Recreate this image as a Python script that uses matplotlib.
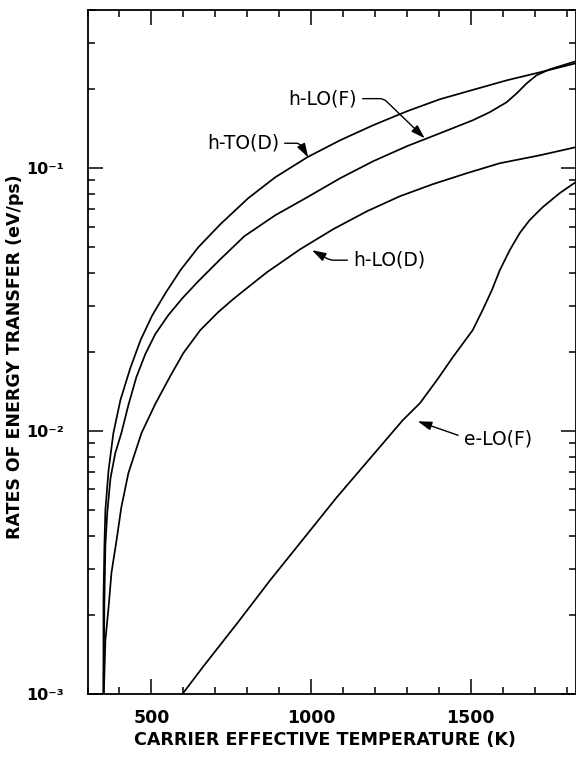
import numpy as np
import matplotlib
matplotlib.use("Agg")
import matplotlib.pyplot as plt
from matplotlib.ticker import FixedLocator, MultipleLocator, LogLocator, NullFormatter

# ---------------- data ----------------
T_hTO_D = [350, 350, 353, 356, 366, 381, 403, 434, 466, 503, 544, 591, 647, 716, 803, 888, 988,
           1091, 1194, 1300, 1403, 1513, 1613, 1716, 1828]
R_hTO_D = [0.001, 0.00228, 0.00369, 0.00501, 0.00711, 0.00983, 0.01312, 0.01736, 0.02218, 0.02761,
           0.03347, 0.04095, 0.05007, 0.06124, 0.0769, 0.09243, 0.1101, 0.1278, 0.1457, 0.1647,
           0.1830, 0.1997, 0.2161, 0.2317, 0.2506]

T_hLO_F = [350, 353, 356, 362, 372, 387, 406, 428, 453, 481, 512, 553, 597, 647, 716, 791, 888, 988,
           1091, 1194, 1300, 1403, 1506, 1559, 1612, 1644, 1675, 1706, 1747, 1828]
R_hLO_F = [0.001, 0.00228, 0.00369, 0.00492, 0.00663, 0.00825, 0.00983, 0.01256, 0.01604, 0.01963,
           0.02337, 0.02761, 0.03203, 0.03718, 0.04508, 0.05513, 0.06627, 0.07757, 0.09162, 0.1063,
           0.1213, 0.1358, 0.1522, 0.1633, 0.1782, 0.1928, 0.2104, 0.2258, 0.2379, 0.2550]

T_hLO_D = [351, 353, 356, 366, 375, 391, 406, 428, 469, 512, 559, 600, 653, 709, 756, 791, 862, 966,
           1069, 1175, 1278, 1381, 1487, 1591, 1716, 1828]
R_hLO_D = [0.001, 0.0012, 0.0016, 0.00214, 0.00289, 0.00385, 0.00514, 0.00692, 0.00983, 0.01267,
           0.01618, 0.0198, 0.02421, 0.02834, 0.03176, 0.03436, 0.04023, 0.0492, 0.05862, 0.06862,
           0.07825, 0.08696, 0.09572, 0.1045, 0.1120, 0.1202]

T_eLO_F = [600, 662, 769, 872, 1081, 1287, 1341, 1394, 1444, 1506, 1537, 1566, 1591, 1622, 1653,
           1684, 1725, 1778, 1828]
R_eLO_F = [0.00101, 0.00127, 0.00186, 0.00271, 0.00561, 0.0110, 0.01278, 0.01563, 0.01912, 0.02421,
           0.02884, 0.03436, 0.04095, 0.04877, 0.0566, 0.06341, 0.07107, 0.08033, 0.08846]

x_major = [500, 1000, 1500]
x_major_labels = ["500", "1000", "1500"]
y_major = [1e-3, 1e-2, 1e-1]
y_major_labels = ["10\u207b\u00b3", "10\u207b\u00b2", "10\u207b\u00b9"]

xlabel = "CARRIER EFFECTIVE TEMPERATURE (K)"
ylabel = "RATES OF ENERGY TRANSFER (eV/ps)"

# ---------------- figure ----------------
W, H = 576, 757
fig = plt.figure(figsize=(W / 100, H / 100), dpi=100)
L, R, B, TOP = 87.5, 575.5, 694, 10
ax = fig.add_axes([L / W, 1 - B / H, (R - L) / W, (B - TOP) / H])

lw = 1.25
for T, Rv in [(T_hTO_D, R_hTO_D), (T_hLO_F, R_hLO_F), (T_hLO_D, R_hLO_D), (T_eLO_F, R_eLO_F)]:
    ax.plot(T, Rv, color="black", lw=lw, solid_joinstyle="round", solid_capstyle="round")

ax.set_yscale("log")
ax.set_xlim(300, 1828)
ax.set_ylim(1e-3, 0.4)

ax.xaxis.set_major_locator(FixedLocator(x_major))
ax.set_xticklabels(x_major_labels)
ax.xaxis.set_minor_locator(MultipleLocator(100))
ax.yaxis.set_major_locator(FixedLocator(y_major))
ax.set_yticklabels(y_major_labels)
ax.yaxis.set_minor_locator(LogLocator(base=10, subs=np.arange(2, 10)))
ax.yaxis.set_minor_formatter(NullFormatter())

ax.tick_params(which="both", direction="in", top=True, right=True, width=1.1, color="black")
ax.tick_params(which="major", length=11)
ax.tick_params(which="minor", length=5)
ax.tick_params(axis="x", which="major", pad=11, labelsize=12.5)
ax.tick_params(axis="y", which="major", pad=17, labelsize=11.5)
for lab in ax.get_xticklabels() + ax.get_yticklabels():
    lab.set_fontweight("bold")

for sp in ax.spines.values():
    sp.set_linewidth(1.3)

fig.text(325 / W, 1 - 740 / H, xlabel, ha="center", va="center", fontsize=12.6, fontweight="bold")
fig.text(15 / W, 1 - 357 / H, ylabel, ha="center", va="center", rotation=90,
         fontsize=12.5, fontweight="bold")

# ---------------- annotations ----------------
arrow_kw = dict(arrowstyle="-|>,head_length=0.7,head_width=0.22", color="black", lw=1.0,
                mutation_scale=12, shrinkA=2, shrinkB=0)
fs = 13.5

ax.annotate("h-LO(F)", xy=(1356, 0.130), xytext=(1037, 0.184), fontsize=fs,
            ha="center", va="center",
            arrowprops=dict(arrow_kw, relpos=(1, 0.5),
                            connectionstyle="angle,angleA=0,angleB=136,rad=4"))
ax.annotate("h-TO(D)", xy=(991, 0.110), xytext=(787, 0.1245), fontsize=fs,
            ha="center", va="center",
            arrowprops=dict(arrow_kw, relpos=(1, 0.5),
                            connectionstyle="angle,angleA=0,angleB=120,rad=4"))
ax.annotate("h-LO(D)", xy=(1003, 0.0488), xytext=(1244, 0.0447), fontsize=fs,
            ha="center", va="center",
            arrowprops=dict(arrow_kw, relpos=(0, 0.5),
                            connectionstyle="angle,angleA=0,angleB=-29,rad=4"))
ax.annotate("e-LO(F)", xy=(1334, 0.0109), xytext=(1584, 0.00933), fontsize=fs,
            ha="center", va="center",
            arrowprops=dict(arrow_kw, relpos=(0, 0.6), connectionstyle="arc3"))

fig.savefig("out.png", dpi=100)
